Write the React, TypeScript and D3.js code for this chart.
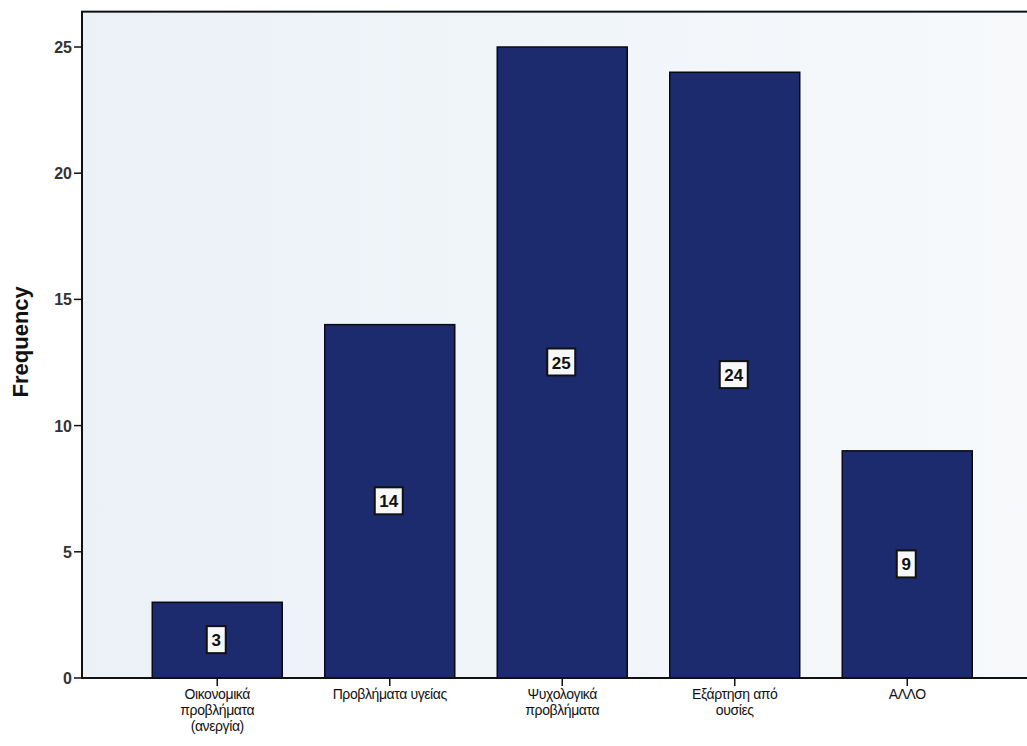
import React from "react";
import * as d3 from "d3";

const categories: string[][] = [
  ["Οικονομικά", "προβλήματα", "(ανεργία)"],
  ["Προβλήματα υγείας"],
  ["Ψυχολογικά", "προβλήματα"],
  ["Εξάρτηση από", "ουσίες"],
  ["ΑΛΛΟ"],
];
const values: number[] = [3, 14, 25, 24, 9];
const yTicks: number[] = [0, 5, 10, 15, 20, 25];

const W = 1027;
const H = 746;

export default function App() {
  const keys = categories.map((c) => c.join(" "));
  const x = d3
    .scaleBand<string>()
    .domain(keys)
    .range([131, 993.5])
    .paddingInner(0.2464)
    .paddingOuter(0.1232);
  const y = d3.scaleLinear().domain([0, 25]).range([678, 47]);
  const axisX = 82;
  const top = y(26.4);
  const font = "Arial, 'Liberation Sans', sans-serif";

  return (
    <svg
      width={W}
      height={H}
      style={{ position: "absolute", left: 0, top: 0, background: "#ffffff" }}
      fontFamily={font}
    >
      <defs>
        <linearGradient id="bg" x1="0" y1="0" x2="1" y2="0">
          <stop offset="0" stopColor="#eaf1f7" />
          <stop offset="1" stopColor="#f7f9fb" />
        </linearGradient>
      </defs>
      <rect x={axisX} y={top} width={W - axisX + 5} height={y(0) - top} fill="url(#bg)" stroke="#111" strokeWidth={2} />
      {values.map((v, i) => {
        const bx = x(keys[i])!;
        const bw = x.bandwidth();
        const cy = (y(v) + y(0)) / 2;
        const label = String(v);
        const lw = label.length === 1 ? 19 : 28;
        return (
          <g key={i}>
            <rect x={bx} y={y(v)} width={bw} height={y(0) - y(v)} fill="#1c2b6e" stroke="#0a0a14" strokeWidth={1.5} />
            <rect x={bx + bw / 2 - lw / 2 - 1} y={cy - 14} width={lw} height={27} fill="#f6f7f9" stroke="#111" strokeWidth={2} />
            <text x={bx + bw / 2 - 1} y={cy + 6} textAnchor="middle" fontSize={17} fontWeight={600} fill="#111">
              {label}
            </text>
          </g>
        );
      })}
      <line x1={axisX} x2={axisX} y1={top} y2={y(0)} stroke="#111" strokeWidth={2} />
      <line x1={axisX} x2={W} y1={y(0)} y2={y(0)} stroke="#111" strokeWidth={2} />
      {yTicks.map((t) => (
        <g key={t}>
          <line x1={axisX - 8} x2={axisX} y1={y(t)} y2={y(t)} stroke="#111" strokeWidth={1.5} />
          <text x={axisX - 10} y={y(t) + 6} textAnchor="end" fontSize={16} fontWeight={600} fill="#333">
            {t}
          </text>
        </g>
      ))}
      {categories.map((lines, i) => {
        const cx = x(keys[i])! + x.bandwidth() / 2;
        return (
          <g key={i}>
            <line x1={cx} x2={cx} y1={y(0)} y2={y(0) + 8} stroke="#111" strokeWidth={1.5} />
            {lines.map((ln, j) => (
              <text key={j} x={cx} y={y(0) + 21 + j * 16} textAnchor="middle" fontSize={14} letterSpacing={-0.4} fill="#111">
                {ln}
              </text>
            ))}
          </g>
        );
      })}
      <text
        transform={`translate(28, ${(y(0) + top) / 2 - 3}) rotate(-90)`}
        textAnchor="middle"
        fontSize={22}
        fontWeight="bold"
        fill="#111"
      >
        Frequency
      </text>
    </svg>
  );
}
